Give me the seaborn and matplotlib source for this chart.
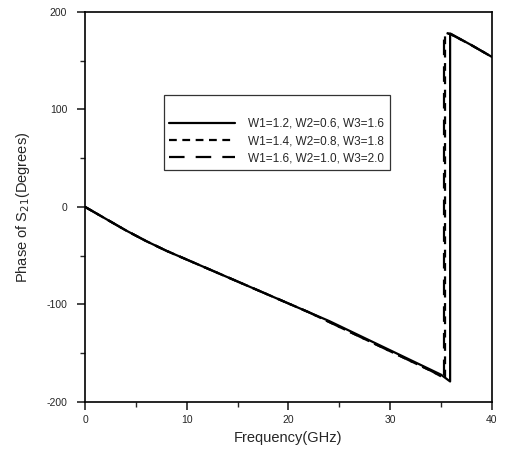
import matplotlib
matplotlib.use("Agg")
import matplotlib.pyplot as plt
import pandas as pd
import seaborn as sns
from matplotlib.ticker import MultipleLocator

# frequency (GHz) and phase of S21 (degrees)
freq_1 = [0, 2, 4, 6, 8, 10, 12, 14, 16, 18, 20, 22, 24, 26, 28, 30, 32, 34, 35, 35.9, 35.9, 36, 38, 40]
phase_1 = [0, -12, -24, -35, -45, -54, -63, -72, -81, -90, -99, -108, -117, -127, -137, -147, -157, -167, -172, -179, 178, 177.5, 166, 154]

freq_2 = [0, 2, 4, 6, 8, 10, 12, 14, 16, 18, 20, 22, 24, 26, 28, 30, 32, 34, 35.4, 35.4, 36, 38, 40]
phase_2 = [0, -12, -24, -35, -45, -54, -63, -72, -81, -90, -99, -108, -118, -128, -138, -148, -158, -168, -176, 179, 177, 166, 154]

freq_3 = [0, 2, 4, 6, 8, 10, 12, 14, 16, 18, 20, 22, 24, 26, 28, 30, 32, 34, 35.3, 35.3, 36, 38, 40]
phase_3 = [0, -12, -24, -35, -45, -54, -63, -72, -81, -90, -99, -108, -118, -128, -138, -148, -158, -168, -175, 179, 177, 166, 154]

labels = ["W1=1.2, W2=0.6, W3=1.6",
          "W1=1.4, W2=0.8, W3=1.8",
          "W1=1.6, W2=1.0, W3=2.0"]

frames = []
for f, p, lab in zip([freq_1, freq_2, freq_3], [phase_1, phase_2, phase_3], labels):
    d = pd.DataFrame({"freq": f, "phase": p})
    d["case"] = lab
    frames.append(d)
df = pd.concat(frames, ignore_index=True)

sns.set_style("ticks")
plt.rcParams["font.family"] = ["Liberation Sans", "DejaVu Sans"]
plt.rcParams["axes.unicode_minus"] = False

fig = plt.figure(figsize=(5.07, 4.62), dpi=100)
ax = fig.add_axes([0.168, 0.130, 0.802, 0.844])

styles = ["-", (0, (3.5, 2.5)), (0, (7, 5))]
for lab, ls in zip(labels, styles):
    sub = df[df["case"] == lab]
    sns.lineplot(data=sub, x="freq", y="phase", sort=False, estimator=None,
                 color="black", linewidth=1.6, linestyle=ls, label=lab, ax=ax)

ax.set_xlim(0, 40)
ax.set_ylim(-200, 200)
ax.xaxis.set_major_locator(MultipleLocator(10))
ax.xaxis.set_minor_locator(MultipleLocator(5))
ax.yaxis.set_major_locator(MultipleLocator(100))
ax.yaxis.set_minor_locator(MultipleLocator(50))
ax.tick_params(which="major", direction="out", length=6, width=1.2, labelsize=7.5)
ax.tick_params(which="minor", direction="out", length=3.5, width=1.0)
ax.tick_params(axis="y", which="major", pad=7)
for s in ax.spines.values():
    s.set_linewidth(1.2)
    s.set_color("black")

ax.set_xlabel("Frequency(GHz)", fontsize=10.5)
ax.set_ylabel("Phase of S$_{21}$(Degrees)", fontsize=10.5, labelpad=10)

leg = ax.legend(loc="upper left", bbox_to_anchor=(0.194, 0.787), fontsize=8.5,
                frameon=True, fancybox=False, edgecolor="black",
                handlelength=5.6, handletextpad=1.1, borderpad=0.45,
                labelspacing=0.45, borderaxespad=0,
                title=" ", title_fontsize=8.5)
leg.get_frame().set_linewidth(0.9)

fig.savefig("out.png", dpi=100)
